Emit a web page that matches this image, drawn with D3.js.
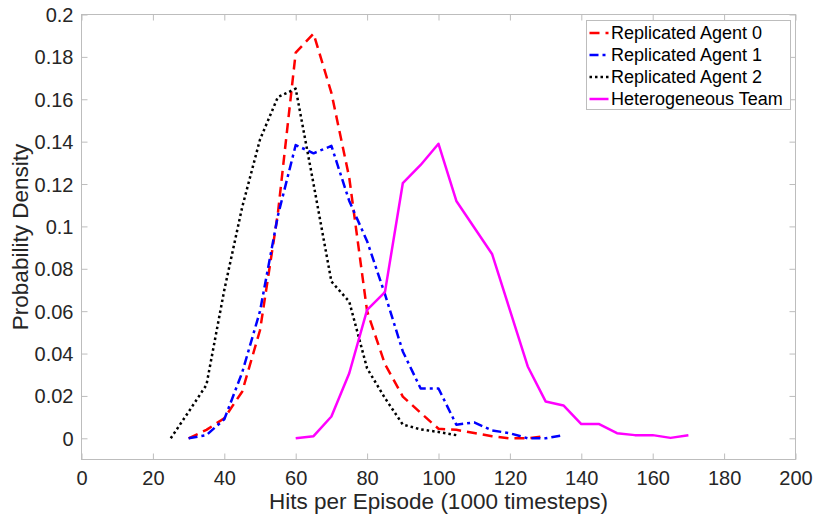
<!DOCTYPE html>
<html>
<head>
<meta charset="utf-8">
<script src="https://cdn.jsdelivr.net/npm/d3@7"></script>
<style>
  html, body { margin: 0; padding: 0; background: #fff; }
  svg { display: block; font-family: "Liberation Sans", Arial, Helvetica, sans-serif; }
</style>
</head>
<body>
<svg id="chart" width="817" height="520"></svg>
<script>
// ---- data ----
const agent0X = [30,35,40,45,50,55,60,65,70,75,80,85,90,95,100,105,110,115,120,125,130];
const agent0Y = [0,0.004,0.0095,0.022,0.051,0.106,0.182,0.191,0.163,0.123,0.06,0.035,0.0197,0.012,0.0045,0.004,0.0025,0.001,0,0,0.001];

const agent1X = [30,35,40,45,50,55,60,65,70,75,80,85,90,95,100,105,110,115,120,125,130,135];
const agent1Y = [0,0.0015,0.009,0.031,0.06,0.105,0.1384,0.1345,0.138,0.112,0.093,0.068,0.041,0.0235,0.0235,0.0064,0.0075,0.0037,0.0024,0,0,0.0015];

const agent2X = [25,30,35,40,45,50,55,60,65,70,75,80,85,90,95,100,105];
const agent2Y = [0,0.0125,0.0252,0.07,0.109,0.141,0.161,0.165,0.12,0.074,0.0645,0.033,0.019,0.0065,0.0042,0.003,0.0015];

const teamX = [60,65,70,75,80,85,90,95,100,105,110,115,120,125,130,135,140,145,150,155,160,165,170];
const teamY = [0,0.001,0.0103,0.0307,0.0606,0.069,0.1204,0.129,0.139,0.112,0.0995,0.087,0.0605,0.0339,0.0174,0.0155,0.0067,0.0067,0.0024,0.0015,0.0015,0.0002,0.0014];

const seriesNames = ["Replicated Agent 0","Replicated Agent 1","Replicated Agent 2","Heterogeneous Team"];
const xTicks = [0,20,40,60,80,100,120,140,160,180,200];
const yTicks = [0,0.02,0.04,0.06,0.08,0.1,0.12,0.14,0.16,0.18,0.2];
const xLabel = "Hits per Episode (1000 timesteps)";
const yLabel = "Probability Density";

// ---- styles ----
const styles = [
  {color:"#ff0000", dash:"10,6"},
  {color:"#0000ff", dash:"9,4,3,4"},
  {color:"#000000", dash:"2.5,3"},
  {color:"#ff00ff", dash:null}
];
const series = [
  {x:agent0X, y:agent0Y},
  {x:agent1X, y:agent1Y},
  {x:agent2X, y:agent2Y},
  {x:teamX, y:teamY}
].map((s,i)=>({name:seriesNames[i], pts:s.x.map((v,j)=>[v,s.y[j]]), ...styles[i]}));

const svg = d3.select("#chart");
const L = 81.5, R = 795.5, T = 14.5, B = 459.5;
const x = d3.scaleLinear().domain([0,200]).range([L,R]);
const y = d3.scaleLinear().domain([-0.01,0.2]).range([B,T]);

const axisColor = "#bdbdbd";
const textColor = "#262626";

// box
svg.append("rect").attr("x",L).attr("y",T).attr("width",R-L).attr("height",B-T)
  .attr("fill","none").attr("stroke",axisColor).attr("stroke-width",1);

const fmtY = d => d===0 ? "0" : String(+d.toFixed(2));

// axes using d3 axis generators
const gx = svg.append("g").attr("transform",`translate(0,${B})`)
  .call(d3.axisBottom(x).tickValues(xTicks).tickSize(-6).tickPadding(11).tickFormat(d3.format("d")));
const gxTop = svg.append("g").attr("transform",`translate(0,${T})`)
  .call(d3.axisTop(x).tickValues(xTicks).tickSize(-6).tickFormat(""));
const gy = svg.append("g").attr("transform",`translate(${L},0)`)
  .call(d3.axisLeft(y).tickValues(yTicks).tickSize(-6).tickPadding(8).tickFormat(fmtY));
const gyR = svg.append("g").attr("transform",`translate(${R},0)`)
  .call(d3.axisRight(y).tickValues(yTicks).tickSize(-6).tickFormat(""));

[gx,gxTop,gy,gyR].forEach(g=>{
  g.select(".domain").remove();
  g.selectAll(".tick line").attr("stroke",axisColor);
  g.selectAll(".tick text").attr("fill",textColor).attr("font-size","20px")
    .attr("font-family","Liberation Sans, Arial, sans-serif");
});
gx.selectAll(".tick text").attr("dy","0.71em");
gy.selectAll(".tick text").attr("dy","0.35em");

// axis labels
svg.append("text").attr("x",(L+R)/2).attr("y",509).attr("text-anchor","middle")
  .attr("fill",textColor).attr("font-size","22.5px").text(xLabel);
svg.append("text").attr("transform",`translate(28,${(T+B)/2}) rotate(-90)`).attr("text-anchor","middle")
  .attr("fill",textColor).attr("font-size","22.5px").text(yLabel);

// lines
const line = d3.line().x(d=>x(d[0])).y(d=>y(d[1]));
series.forEach(s=>{
  svg.append("path").attr("d",line(s.pts)).attr("fill","none")
    .attr("stroke",s.color).attr("stroke-width",2.5)
    .attr("stroke-dasharray",s.dash)
    .attr("stroke-linejoin","round");
});

// legend
const lg = svg.append("g");
const lgX = 586.5, lgY = 20.5, lgW = 204, lgH = 89;
lg.append("rect").attr("x",lgX).attr("y",lgY).attr("width",lgW).attr("height",lgH)
  .attr("fill","#fff").attr("stroke",axisColor).attr("stroke-width",1);
series.forEach((s,i)=>{
  const cy = lgY + 12.5 + i*22;
  lg.append("line").attr("x1",lgX+3).attr("x2",lgX+22).attr("y1",cy).attr("y2",cy)
    .attr("stroke",s.color).attr("stroke-width",2.5).attr("stroke-dasharray",s.dash);
  lg.append("text").attr("x",lgX+24.5).attr("y",cy).attr("dy","0.35em")
    .attr("fill","#000").attr("font-size","18px").text(s.name);
});
</script>
</body>
</html>
